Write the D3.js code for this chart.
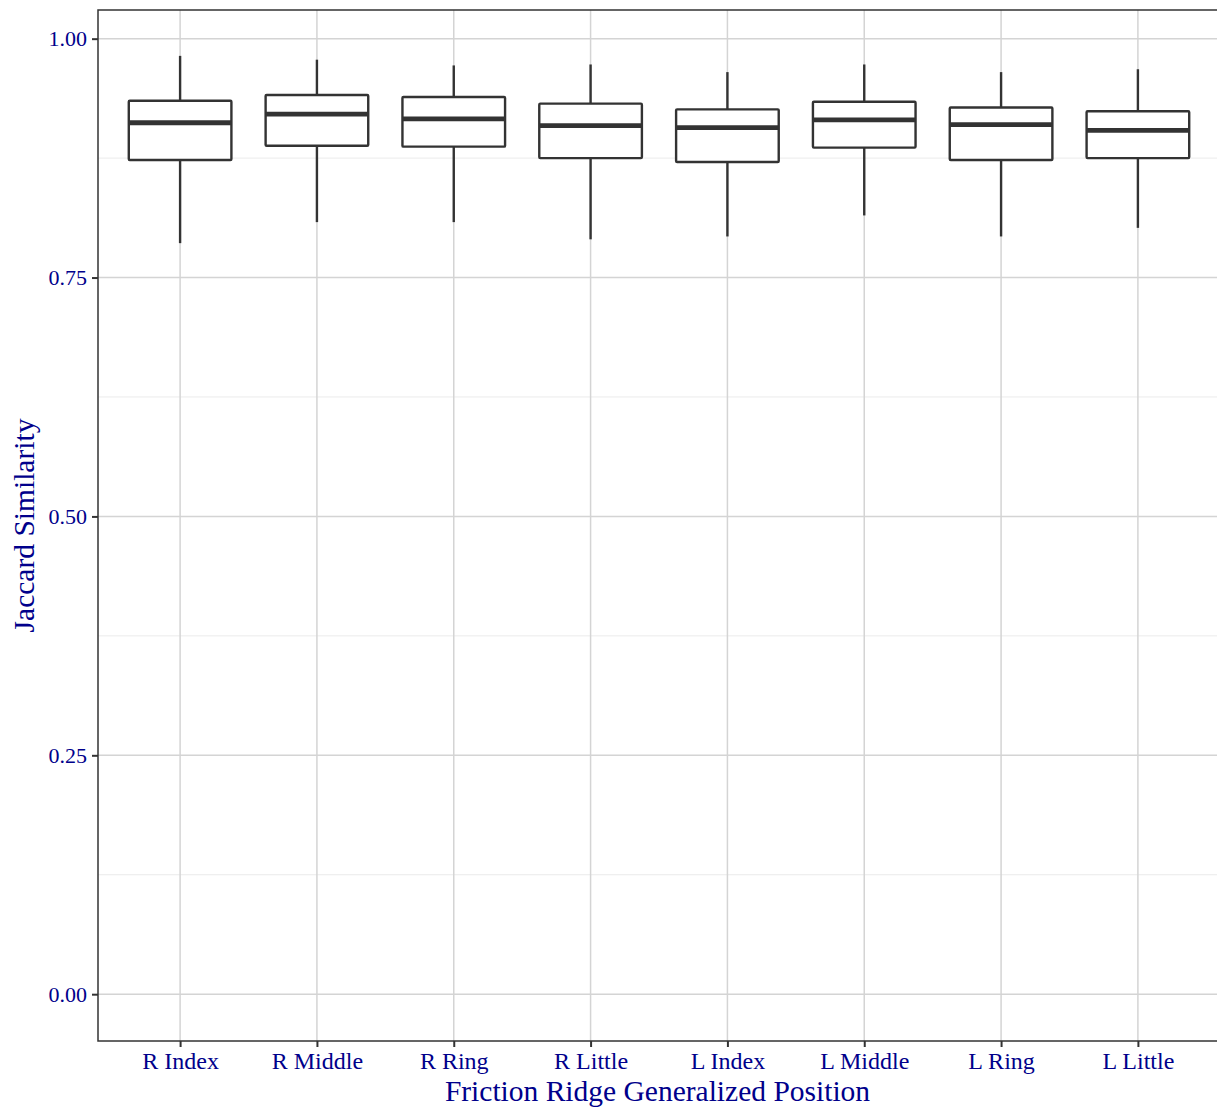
<!DOCTYPE html>
<html lang="en">
<head>
	<meta charset="utf-8"/>
	<title>Jaccard Similarity by Friction Ridge Position</title>
	<script src="https://d3js.org/d3.v7.min.js"></script>
	<style>
		body { margin: 0; background: white; }
		text { font-family: "Liberation Serif", "DejaVu Serif", serif; }
	</style>
</head>
<body>
<script>
// data
	var positions = ["R Index", "R Middle", "R Ring", "R Little", "L Index", "L Middle", "L Ring", "L Little"];
	var whiskerLow  = [0.786, 0.808, 0.808, 0.790, 0.793, 0.815, 0.793, 0.802];
	var q1          = [0.873, 0.888, 0.887, 0.875, 0.871, 0.886, 0.873, 0.875];
	var medians     = [0.912, 0.921, 0.916, 0.909, 0.907, 0.915, 0.910, 0.904];
	var q3          = [0.935, 0.941, 0.939, 0.932, 0.926, 0.934, 0.928, 0.924];
	var whiskerHigh = [0.982, 0.978, 0.972, 0.973, 0.965, 0.973, 0.965, 0.968];
	var yTicks = [0, 0.25, 0.5, 0.75, 1];
	var yMinorTicks = [0.125, 0.375, 0.625, 0.875];

	var boxes = positions.map(function(p, i) {
		return {name: p, lo: whiskerLow[i], q1: q1[i], med: medians[i], q3: q3[i], hi: whiskerHigh[i]};
	});

// sizes (panel edges)
	var w = 1217;
	var h = 1109;
	var pLeft = 98, pRight = 1220, pTop = 10, pBottom = 1041;
	var ink = "#333333";
	var labelColour = "#00008b";

// ggplot style discrete scale: 0.6 expansion each side, boxes 0.75 wide
	var step = (pRight - pLeft) / (positions.length - 1 + 1.2);
	var xScale = d3.scalePoint()
				.domain(positions)
				.range([pLeft + 0.6 * step, pRight - 0.6 * step]);
	var boxW = step * 0.75;

	var yScale = d3.scaleLinear()
				.domain([-0.049, 1.03])
				.range([pBottom, pTop]);

	var svg = d3.select("body")
				.append("svg")
				.attr("width", w)
				.attr("height", h);

// grid
	svg.selectAll(".minor")
		.data(yMinorTicks)
		.enter()
		.append("line")
		.attr("x1", pLeft).attr("x2", pRight)
		.attr("y1", function(d) { return yScale(d); })
		.attr("y2", function(d) { return yScale(d); })
		.attr("stroke", "#ebebeb")
		.attr("stroke-width", 1);

	svg.selectAll(".majorY")
		.data(yTicks)
		.enter()
		.append("line")
		.attr("x1", pLeft).attr("x2", pRight)
		.attr("y1", function(d) { return yScale(d); })
		.attr("y2", function(d) { return yScale(d); })
		.attr("stroke", "#d4d4d4")
		.attr("stroke-width", 1.5);

	svg.selectAll(".majorX")
		.data(positions)
		.enter()
		.append("line")
		.attr("x1", function(d) { return xScale(d); })
		.attr("x2", function(d) { return xScale(d); })
		.attr("y1", pTop).attr("y2", pBottom)
		.attr("stroke", "#d4d4d4")
		.attr("stroke-width", 1.5);

// boxes
	var g = svg.selectAll(".box")
		.data(boxes)
		.enter()
		.append("g");

	g.append("line") // whisker
		.attr("x1", function(d) { return xScale(d.name); })
		.attr("x2", function(d) { return xScale(d.name); })
		.attr("y1", function(d) { return yScale(d.lo); })
		.attr("y2", function(d) { return yScale(d.hi); })
		.attr("stroke", ink)
		.attr("stroke-width", 2.4);

	g.append("rect")
		.attr("x", function(d) { return xScale(d.name) - boxW / 2; })
		.attr("y", function(d) { return yScale(d.q3); })
		.attr("width", boxW)
		.attr("height", function(d) { return yScale(d.q1) - yScale(d.q3); })
		.attr("fill", "white")
		.attr("stroke", ink)
		.attr("stroke-width", 2.4)
		.attr("rx", 1);

	g.append("line") // median
		.attr("x1", function(d) { return xScale(d.name) - boxW / 2; })
		.attr("x2", function(d) { return xScale(d.name) + boxW / 2; })
		.attr("y1", function(d) { return yScale(d.med); })
		.attr("y2", function(d) { return yScale(d.med); })
		.attr("stroke", ink)
		.attr("stroke-width", 4.8);

// panel border
	svg.append("rect")
		.attr("x", pLeft).attr("y", pTop)
		.attr("width", pRight - pLeft).attr("height", pBottom - pTop)
		.attr("fill", "none")
		.attr("stroke", ink)
		.attr("stroke-width", 1.5);

// axes
	var yAxis = d3.axisLeft(yScale)
				.tickValues(yTicks)
				.tickFormat(d3.format(".2f"))
				.tickSize(6)
				.tickPadding(5);
	var ya = svg.append("g")
		.attr("transform", "translate(" + pLeft + ",0)")
		.call(yAxis);
	ya.select(".domain").remove();
	ya.selectAll(".tick line").attr("stroke", ink).attr("stroke-width", 2);
	ya.selectAll(".tick text")
		.attr("fill", labelColour)
		.attr("font-size", "22px")
		.attr("font-family", "Liberation Serif, serif");

	var xAxis = d3.axisBottom(xScale)
				.tickSize(6)
				.tickPadding(5);
	var xa = svg.append("g")
		.attr("transform", "translate(0," + pBottom + ")")
		.call(xAxis);
	xa.select(".domain").remove();
	xa.selectAll(".tick line").attr("stroke", ink).attr("stroke-width", 2);
	xa.selectAll(".tick text")
		.attr("fill", labelColour)
		.attr("font-size", "24px")
		.attr("font-family", "Liberation Serif, serif");

// axis titles
	svg.append("text")
		.attr("x", (pLeft + w) / 2)
		.attr("y", 1101)
		.attr("text-anchor", "middle")
		.attr("fill", labelColour)
		.attr("font-size", "29.5px")
		.text("Friction Ridge Generalized Position");

	svg.append("text")
		.attr("transform", "translate(34," + ((pTop + pBottom) / 2) + ") rotate(-90)")
		.attr("text-anchor", "middle")
		.attr("fill", labelColour)
		.attr("font-size", "29.5px")
		.text("Jaccard Similarity");
</script>
</body>
</html>
